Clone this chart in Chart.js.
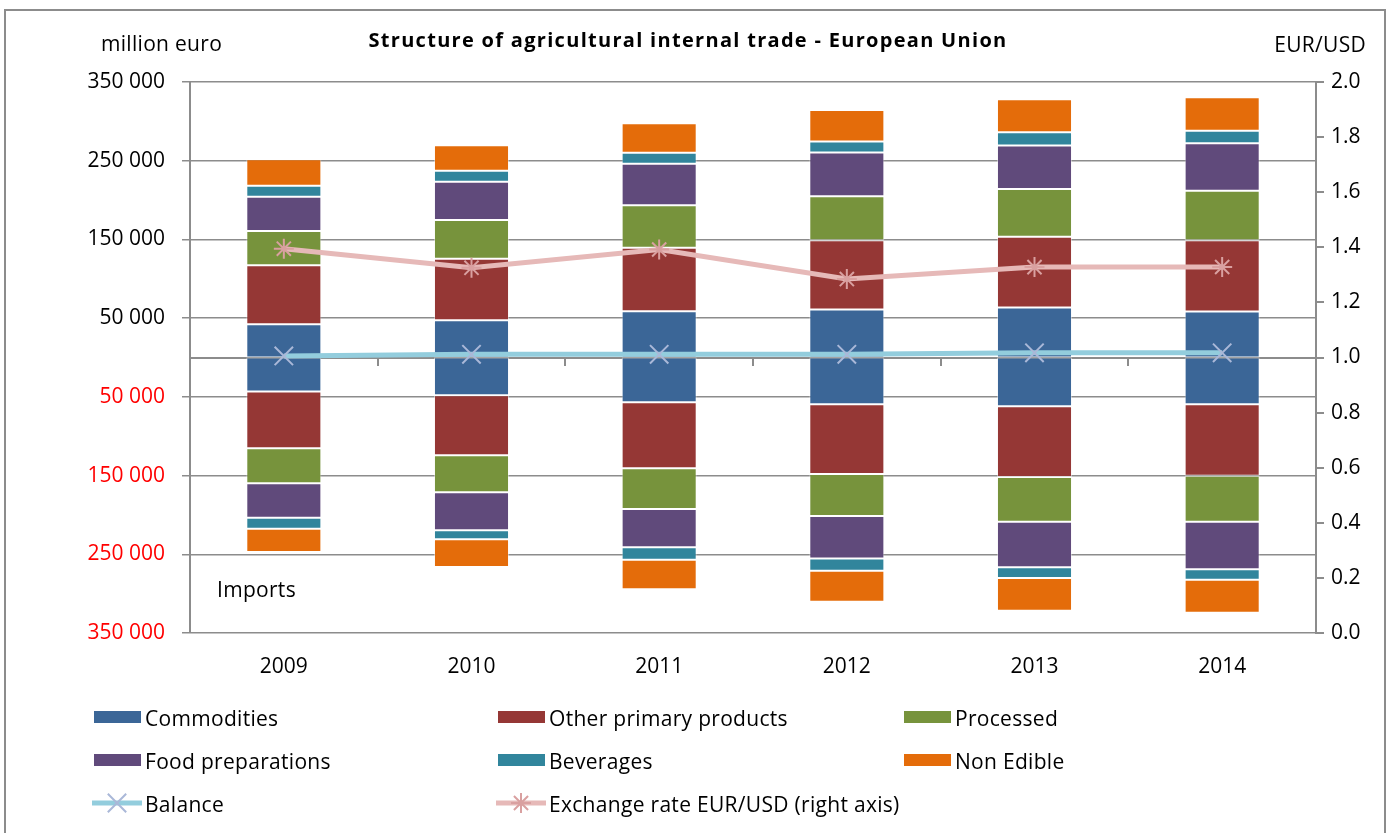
<!DOCTYPE html>
<html>
<head>
<meta charset="utf-8">
<title>Structure of agricultural internal trade - European Union</title>
<script src="https://cdn.jsdelivr.net/npm/chart.js@4.4.1/dist/chart.umd.min.js"></script>
<style>
  html, body { margin: 0; padding: 0; background: #fff; }
  #wrap { position: relative; width: 1389px; height: 833px; overflow: hidden; background: #fff; }
  #frame { position: absolute; left: 4px; top: 9px; width: 1378px; height: 840px; border: 2px solid #8c8c8c; pointer-events: none; }
</style>
</head>
<body>
<div id="wrap">
  <canvas id="tradeChart"></canvas>
  <div id="frame"></div>
</div>
<script>
// data (million euro), exports positive, imports negative
const years = ["2009", "2010", "2011", "2012", "2013", "2014"];

const expCommodities = [42200, 47400, 58900, 61100, 63600, 58500];
const expOtherPrimary = [74900, 78000, 80500, 87800, 89800, 90300];
const expProcessed = [43600, 49200, 53900, 56000, 60700, 63100];
const expFoodPrep = [43600, 48700, 52900, 55500, 55100, 60300];
const expBeverages = [14000, 14000, 14000, 14000, 17000, 16000];
const expNonEdible = [33500, 32300, 37400, 39900, 42000, 42500];

const impCommodities = [-43200, -47800, -56700, -59300, -61800, -59300];
const impOtherPrimary = [-72000, -76300, -84000, -88700, -89900, -90800];
const impProcessed = [-44500, -47100, -51800, -53400, -56900, -58500];
const impFoodPrep = [-43800, -48300, -48700, -53800, -58000, -60500];
const impBeverages = [-14000, -11400, -15800, -15800, -13600, -13200];
const impNonEdible = [-29600, -35200, -37300, -39400, -41600, -42000];

const balance = [2000, 4000, 4000, 4000, 6000, 6000];
const eurUsd = [1.3948, 1.3257, 1.392, 1.2848, 1.3281, 1.3285];

const leftTicks = [-350000, -250000, -150000, -50000, 50000, 150000, 250000, 350000];

const FONT = '"Open Sans", sans-serif';
const GRID = "#8c8c8c";

const groups = [
  { label: "Commodities", color: "#3b6697", exp: expCommodities, imp: impCommodities },
  { label: "Other primary products", color: "#953735", exp: expOtherPrimary, imp: impOtherPrimary },
  { label: "Processed", color: "#77933c", exp: expProcessed, imp: impProcessed },
  { label: "Food preparations", color: "#604a7b", exp: expFoodPrep, imp: impFoodPrep },
  { label: "Beverages", color: "#31859c", exp: expBeverages, imp: impBeverages },
  { label: "Non Edible", color: "#e46c0a", exp: expNonEdible, imp: impNonEdible },
];

const barSets = [];
for (const g of groups) {
  for (const d of [g.exp, g.imp]) {
    barSets.push({
      type: "bar", label: g.label, data: d, backgroundColor: g.color,
      borderColor: "rgba(255,255,255,0.45)", borderWidth: 1, borderSkipped: false,
      stack: "trade", xAxisID: "x", yAxisID: "y", order: 2,
      barPercentage: 0.4, categoryPercentage: 1,
    });
  }
}

const balanceSet = {
  type: "line", label: "Balance", data: balance, xAxisID: "x", yAxisID: "y", order: 0,
  borderColor: "#93cddd", borderWidth: 5, tension: 0,
  pointStyle: "crossRot", pointRadius: 13, pointBorderWidth: 2,
  pointBorderColor: "#aab8d8", pointBackgroundColor: "#aab8d8",
};
const rateSet = {
  type: "line", label: "Exchange rate EUR/USD (right axis)", data: eurUsd, xAxisID: "x", yAxisID: "y1", order: 1,
  borderColor: "#e6b9b8", borderWidth: 5, tension: 0,
  pointStyle: "star", pointRadius: 10, pointBorderWidth: 2,
  pointBorderColor: "#d9a0a0", pointBackgroundColor: "#d9a0a0",
};

function fmt(v) {
  return String(Math.abs(v)).replace(/\B(?=(\d{3})+(?!\d))/g, " ");
}

// legend grid: 3 columns x 3 rows
const legendCols = [94, 498, 904];
const legendRows = [717, 760, 803];
const legendItems = [
  ...groups.map((g, i) => ({ text: g.label, color: g.color, col: i % 3, row: Math.floor(i / 3) })),
  { text: balanceSet.label, line: balanceSet, col: 0, row: 2 },
  { text: rateSet.label, line: rateSet, col: 1, row: 2 },
];

const extras = {
  id: "extras",
  afterDraw(chart) {
    const ctx = chart.ctx;
    ctx.save();
    ctx.fillStyle = "#000";
    ctx.textBaseline = "alphabetic";

    ctx.font = "bold 20px " + FONT;
    ctx.letterSpacing = "1.3px";
    ctx.textAlign = "center";
    ctx.fillText("Structure of agricultural internal trade - European Union", 688, 47);

    ctx.font = "21px " + FONT;
    ctx.letterSpacing = "0.3px";
    ctx.textAlign = "left";
    ctx.fillText("million euro", 101, 51);
    ctx.fillText("Imports", 217, 597);
    ctx.textAlign = "right";
    ctx.fillText("EUR/USD", 1366, 52);

    ctx.textAlign = "left";
    for (const it of legendItems) {
      const x = legendCols[it.col], y = legendRows[it.row];
      if (it.line) {
        ctx.strokeStyle = it.line.borderColor;
        ctx.lineWidth = it.line.borderWidth;
        ctx.beginPath();
        ctx.moveTo(x - 2, y);
        ctx.lineTo(x + 48, y);
        ctx.stroke();
        ctx.strokeStyle = it.line.pointBorderColor;
        ctx.fillStyle = it.line.pointBorderColor;
        ctx.lineWidth = it.line.pointBorderWidth;
        Chart.helpers.drawPoint(ctx, { pointStyle: it.line.pointStyle, radius: it.line.pointRadius, rotation: 0, borderWidth: it.line.pointBorderWidth }, x + 23, y);
      } else {
        ctx.fillStyle = it.color;
        ctx.fillRect(x, y - 6, 47, 12);
      }
      ctx.fillStyle = "#000";
      ctx.fillText(it.text, x + 51, y + 9);
    }
    ctx.restore();
  },
};

Chart.defaults.font.family = FONT;
Chart.defaults.font.size = 21;
Chart.defaults.color = "#000";

new Chart(document.getElementById("tradeChart").getContext("2d"), {
  data: { labels: years, datasets: [balanceSet, rateSet, ...barSets] },
  options: {
    responsive: true, maintainAspectRatio: false, animation: false,
    layout: { padding: { top: 82, left: 0, right: 0, bottom: 0 } },
    plugins: { legend: { display: false }, title: { display: false }, tooltip: { enabled: false } },
    scales: {
      x: {
        type: "category", position: "bottom", offset: true,
        grid: { display: false, drawTicks: false }, border: { display: false },
        ticks: { padding: 21 },
        afterFit: (s) => { s.height = 200; },
      },
      x2: {
        type: "category", labels: years, position: { y: 0 }, offset: true,
        grid: { offset: true, drawOnChartArea: false, drawTicks: true, tickLength: 7, color: GRID, lineWidth: 2 },
        border: { display: true, color: GRID, width: 2 },
        ticks: { display: false },
      },
      y: {
        type: "linear", position: "left", stacked: true, min: -350000, max: 350000,
        afterBuildTicks: (s) => { s.ticks = leftTicks.map((v) => ({ value: v })); },
        ticks: { callback: (v) => fmt(v), color: (c) => (c.tick && c.tick.value < 0 ? "#ff0000" : "#000"), padding: 17 },
        grid: { color: GRID, lineWidth: 1.5, tickLength: 8 },
        border: { display: true, color: GRID, width: 2 },
        afterFit: (s) => { s.width = 190; },
      },
      y1: {
        type: "linear", position: "right", min: 0, max: 2,
        ticks: { stepSize: 0.2, callback: (v) => v.toFixed(1), padding: 7 },
        grid: { drawOnChartArea: false, color: GRID, lineWidth: 2, tickLength: 8 },
        border: { display: true, color: GRID, width: 2 },
        afterFit: (s) => { s.width = 73; },
      },
    },
  },
  plugins: [extras],
});
</script>
</body>
</html>
